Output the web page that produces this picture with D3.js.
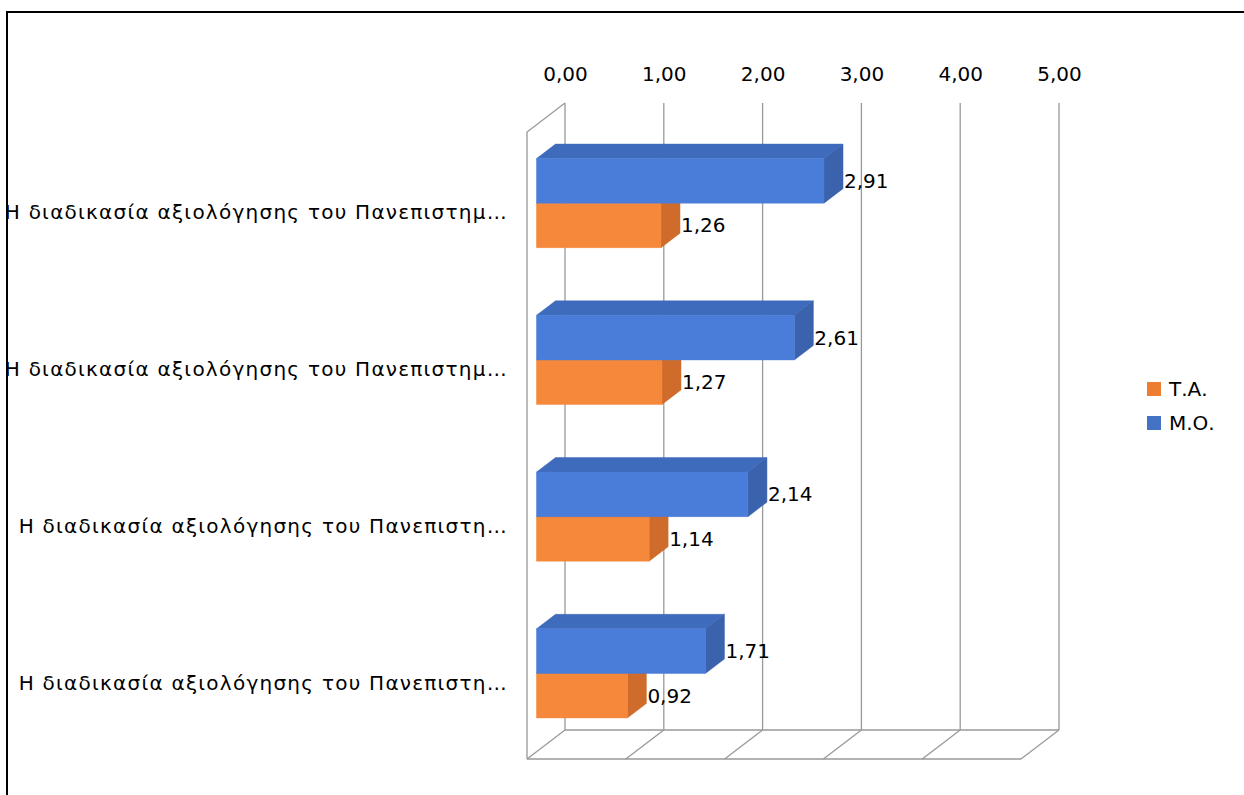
<!DOCTYPE html>
<html>
<head>
<meta charset="utf-8">
<script src="https://cdn.jsdelivr.net/npm/d3@7"></script>
<style>
  body { margin: 0; background: #fff; }
  svg { font-family: "DejaVu Sans", "Open Sans", sans-serif; }
</style>
</head>
<body>
<svg width="1244" height="795"></svg>
<script>
// chart data
var categories = [
    "Η διαδικασία αξιολόγησης του Πανεπιστημ…",
    "Η διαδικασία αξιολόγησης του Πανεπιστημ…",
    "Η διαδικασία αξιολόγησης του Πανεπιστη…",
    "Η διαδικασία αξιολόγησης του Πανεπιστη…"
];
var seriesNames = ["Μ.Ο.", "Τ.Α."];
var moValues = [2.91, 2.61, 2.14, 1.71];
var taValues = [1.26, 1.27, 1.14, 0.92];
var tickValues = [0, 1, 2, 3, 4, 5];

var svg = d3.select("svg");
var FS = 20;

var locale = d3.formatLocale({ decimal: ",", thousands: ".", grouping: [3], currency: ["", "€"] }),
    fmt = locale.format(".2f");

// 3d geometry: front plane and depth vector
var DX = 38, DY = -29,
    front = { left: 527, top: 132, bottom: 759 };

var x = d3.scaleLinear()
    .domain([0, 5])
    .range([front.left, front.left + 494]);

var y = d3.scaleBand()
    .domain(d3.range(categories.length))
    .range([front.top, front.bottom])
    .paddingInner(0.432)
    .paddingOuter(0.216);

var ySub = d3.scaleBand()
    .domain(seriesNames)
    .range([0, y.bandwidth()]);

var colors = {
    "Μ.Ο.": { front: "#4a7dd9", top: "#3f6bbd", side: "#3a62ad", legend: "#4472c4" },
    "Τ.Α.": { front: "#f5883a", top: "#d8742f", side: "#d06c2b", legend: "#ed7d31" }
};

function pt(v, yy, d) {
    return [x(v) + d * DX, yy + d * DY];
}

// outer border
svg.append("path")
    .attr("d", "M7,795 L7,12 L1244,12")
    .attr("fill", "none")
    .attr("stroke", "#000")
    .attr("stroke-width", 2);

var grid = svg.append("g")
    .attr("fill", "none")
    .attr("stroke", "#999")
    .attr("stroke-width", 1.3);

// back wall verticals
grid.selectAll(".wall")
    .data(tickValues)
    .enter().append("line")
    .attr("x1", function (d) { return pt(d, front.top, 1)[0]; })
    .attr("y1", function (d) { return pt(d, front.top, 1)[1]; })
    .attr("x2", function (d) { return pt(d, front.bottom, 1)[0]; })
    .attr("y2", function (d) { return pt(d, front.bottom, 1)[1]; });

// floor diagonals
grid.selectAll(".floor")
    .data(tickValues)
    .enter().append("line")
    .attr("x1", function (d) { return pt(d, front.bottom, 1)[0]; })
    .attr("y1", function (d) { return pt(d, front.bottom, 1)[1]; })
    .attr("x2", function (d) { return pt(d, front.bottom, 0)[0]; })
    .attr("y2", function (d) { return pt(d, front.bottom, 0)[1]; });

// floor edges + left wall
var line = d3.line();
grid.append("path").attr("d", line([pt(0, front.bottom, 0), pt(5, front.bottom, 0)]));
grid.append("path").attr("d", line([pt(0, front.bottom, 1), pt(5, front.bottom, 1)]));
grid.append("path").attr("d", line([pt(0, front.bottom, 0), pt(0, front.top, 0), pt(0, front.top, 1)]));

// top axis with tick labels on the back wall
var xBack = x.copy().range(x.range().map(function (r) { return r + DX; }));
var axis = svg.append("g")
    .attr("transform", "translate(0,81)")
    .call(d3.axisTop(xBack).tickValues(tickValues).tickFormat(fmt).tickSize(0).tickPadding(0));
axis.select(".domain").remove();
axis.selectAll("text")
    .attr("font-size", FS)
    .attr("font-family", "'DejaVu Sans', sans-serif")
    .attr("fill", "#000");

// bars, drawn bottom series first so the upper bar covers its top face
var rows = [];
categories.forEach(function (c, i) {
    rows.push({ i: i, s: "Τ.Α.", v: taValues[i] });
    rows.push({ i: i, s: "Μ.Ο.", v: moValues[i] });
});

var bars = svg.append("g").selectAll("g")
    .data(rows)
    .enter().append("g");

function faces(d) {
    var y0 = y(d.i) + ySub(d.s), y1 = y0 + ySub.bandwidth();
    return {
        front: [pt(0, y0, 0.25), pt(d.v, y0, 0.25), pt(d.v, y1, 0.25), pt(0, y1, 0.25)],
        top: [pt(0, y0, 0.25), pt(d.v, y0, 0.25), pt(d.v, y0, 0.75), pt(0, y0, 0.75)],
        side: [pt(d.v, y0, 0.25), pt(d.v, y0, 0.75), pt(d.v, y1, 0.75), pt(d.v, y1, 0.25)]
    };
}

["top", "side", "front"].forEach(function (f) {
    bars.append("path")
        .attr("d", function (d) { return line(faces(d)[f]) + "Z"; })
        .attr("fill", function (d) { return colors[d.s][f]; })
        .attr("stroke", function (d) { return colors[d.s][f]; })
        .attr("stroke-width", 0.5);
});

// data labels
bars.append("text")
    .attr("x", function (d) { return pt(d.v, 0, 0.75)[0] + 1; })
    .attr("y", function (d) { return pt(0, y(d.i) + ySub(d.s) + ySub.bandwidth() / 2, 0.25)[1]; })
    .attr("dy", "0.35em")
    .attr("font-size", FS)
    .attr("fill", "#000")
    .text(function (d) { return fmt(d.v); });

// category labels
svg.append("g").selectAll("text")
    .data(categories)
    .enter().append("text")
    .attr("x", 508)
    .attr("y", function (d, i) { return y(i) + y.bandwidth() / 2 + 2; })
    .attr("dy", "0.35em")
    .attr("text-anchor", "end")
    .attr("font-size", FS)
    .attr("letter-spacing", "1.25px")
    .attr("fill", "#000")
    .text(function (d) { return d; });

// legend
var legendOrder = ["Τ.Α.", "Μ.Ο."];
var legend = svg.append("g").selectAll("g")
    .data(legendOrder)
    .enter().append("g")
    .attr("transform", function (d, i) { return "translate(1147," + (382 + i * 34) + ")"; });
legend.append("rect")
    .attr("width", 14)
    .attr("height", 14)
    .attr("fill", function (d) { return colors[d].legend; });
legend.append("text")
    .attr("x", 22)
    .attr("y", 7)
    .attr("dy", "0.35em")
    .attr("font-size", FS)
    .attr("fill", "#000")
    .text(function (d) { return d; });
</script>
</body>
</html>
